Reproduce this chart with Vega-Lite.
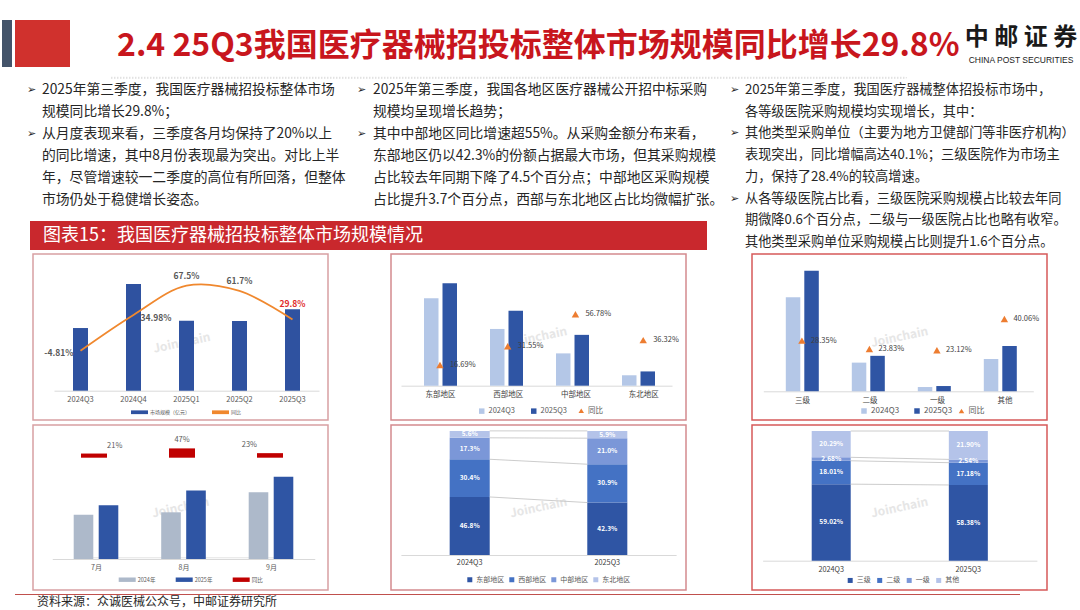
{
"$schema":"https://vega.github.io/schema/vega-lite/v6.json",
"background":"white",
"padding":0,
"spacing":0,
"resolve":{"scale":{"color":"independent","shape":"independent"},"legend":{"color":"independent","shape":"independent"}},
"config":{"font":"Noto Sans CJK SC","view":{"stroke":null},"axis":{"labelFont":"Noto Sans CJK SC"},"legend":{"labelFont":"Noto Sans CJK SC"},"text":{"font":"Noto Sans CJK SC"}},
"datasets":{
"p1":[{"q":"2024Q3","v":272,"yoy":-4.81,"lab":"-4.81%"},{"q":"2024Q4","v":463,"yoy":34.98,"lab":"34.98%"},{"q":"2025Q1","v":304,"yoy":67.5,"lab":"67.5%"},{"q":"2025Q2","v":302,"yoy":61.7,"lab":"61.7%"},{"q":"2025Q3","v":353,"yoy":29.8,"lab":"29.8%"}],
"p2bars":[{"r":"东部地区","y":"2024Q3","v":127.3},{"r":"东部地区","y":"2025Q3","v":149.3},{"r":"西部地区","y":"2024Q3","v":82.7},{"r":"西部地区","y":"2025Q3","v":109.1},{"r":"中部地区","y":"2024Q3","v":47.1},{"r":"中部地区","y":"2025Q3","v":74.1},{"r":"东北地区","y":"2024Q3","v":15.2},{"r":"东北地区","y":"2025Q3","v":20.8}],
"p2yoy":[{"r":"东部地区","yoy":16.69,"lab":"16.69%"},{"r":"西部地区","yoy":31.55,"lab":"31.55%"},{"r":"中部地区","yoy":56.78,"lab":"56.78%"},{"r":"东北地区","yoy":36.32,"lab":"36.32%"}],
"p3bars":[{"r":"三级","y":"2024Q3","v":160.5},{"r":"三级","y":"2025Q3","v":206.1},{"r":"二级","y":"2024Q3","v":49.0},{"r":"二级","y":"2025Q3","v":60.6},{"r":"一级","y":"2024Q3","v":7.3},{"r":"一级","y":"2025Q3","v":9.0},{"r":"其他","y":"2024Q3","v":55.2},{"r":"其他","y":"2025Q3","v":77.3}],
"p3yoy":[{"r":"三级","yoy":28.35,"lab":"28.35%"},{"r":"二级","yoy":23.83,"lab":"23.83%"},{"r":"一级","yoy":23.12,"lab":"23.12%"},{"r":"其他","yoy":40.06,"lab":"40.06%"}],
"p4bars":[{"m":"7月","y":"2024年","v":76.3},{"m":"7月","y":"2025年","v":92.4},{"m":"8月","y":"2024年","v":80.3},{"m":"8月","y":"2025年","v":117.9},{"m":"9月","y":"2024年","v":115.0},{"m":"9月","y":"2025年","v":141.5}],
"p4yoy":[{"m":"7月","yoy":21,"lab":"21%"},{"m":"8月","yoy":47,"lab":"47%"},{"m":"9月","yoy":23,"lab":"23%"}],
"p5":[{"q":"2024Q3","r":"东部地区","k":1,"s":46.8,"lab":"46.8%"},{"q":"2024Q3","r":"西部地区","k":2,"s":30.4,"lab":"30.4%"},{"q":"2024Q3","r":"中部地区","k":3,"s":17.3,"lab":"17.3%"},{"q":"2024Q3","r":"东北地区","k":4,"s":5.6,"lab":"5.6%"},{"q":"2025Q3","r":"东部地区","k":1,"s":42.3,"lab":"42.3%"},{"q":"2025Q3","r":"西部地区","k":2,"s":30.9,"lab":"30.9%"},{"q":"2025Q3","r":"中部地区","k":3,"s":21.0,"lab":"21.0%"},{"q":"2025Q3","r":"东北地区","k":4,"s":5.9,"lab":"5.9%"}],
"p6":[{"q":"2024Q3","r":"三级","k":1,"s":59.02,"lab":"59.02%"},{"q":"2024Q3","r":"二级","k":2,"s":18.01,"lab":"18.01%"},{"q":"2024Q3","r":"一级","k":3,"s":2.68,"lab":"2.68%"},{"q":"2024Q3","r":"其他","k":4,"s":20.29,"lab":"20.29%"},{"q":"2025Q3","r":"三级","k":1,"s":58.38,"lab":"58.38%"},{"q":"2025Q3","r":"二级","k":2,"s":17.18,"lab":"17.18%"},{"q":"2025Q3","r":"一级","k":3,"s":2.54,"lab":"2.54%"},{"q":"2025Q3","r":"其他","k":4,"s":21.90,"lab":"21.90%"}]
},
"vconcat":[
{"width":1,"height":20,"data":{"values":[]},"mark":{"type":"text"}},
{"hconcat":[
 {"width":2,"height":47,"data":{"values":[]},"mark":{"type":"text"}},
 {"width":10,"height":47,"view":{"fill":"#44546A","stroke":null},"data":{"values":[]},"mark":{"type":"text"}},
 {"width":3,"height":47,"data":{"values":[]},"mark":{"type":"text"}},
 {"width":55,"height":47,"view":{"fill":"#D0312D","stroke":null},"data":{"values":[]},"mark":{"type":"text"}},
 {"width":45,"height":47,"data":{"values":[]},"mark":{"type":"text"}},
 {"width":843,"height":47,"data":{"values":[{"t":"2.4 25Q3我国医疗器械招投标整体市场规模同比增长29.8%"}]},"mark":{"type":"text","fontSize":32,"fontWeight":"bold","color":"#C8161D","align":"left","baseline":"middle","dy":2},"encoding":{"x":{"value":2},"text":{"field":"t"}}},
 {"width":122,"height":47,"layer":[
   {"data":{"values":[{"t":"中 邮 证 券"}]},"mark":{"type":"text","fontSize":24,"fontWeight":"bold","color":"#1A1A1A","align":"center","baseline":"middle","dy":-6},"encoding":{"text":{"field":"t"}}},
   {"data":{"values":[{"t":"CHINA POST SECURITIES"}]},"mark":{"type":"text","font":"Liberation Sans","fontSize":8.5,"color":"#1A1A1A","align":"center","baseline":"middle","dy":16},"encoding":{"text":{"field":"t"}}}
 ]}
],"spacing":0},
{"width":1,"height":9,"data":{"values":[]},"mark":{"type":"text"}},
{"hconcat":[
 {"width":110,"height":1,"data":{"values":[]},"mark":{"type":"text"}},
 {"width":795,"height":1,"view":{"stroke":"#C8C8C8","strokeWidth":0.8,"strokeDash":[1,2]},"data":{"values":[]},"mark":{"type":"text"}}
],"spacing":0},
{"hconcat":[
 {"width":25,"height":174,"data":{"values":[]},"mark":{"type":"text"}},
 {"vconcat":[
   {"hconcat":[
     {"width":330,"height":132,"data":{"values":[
       {"i":0,"b":"➢","t":"2025年第三季度，我国医疗器械招投标整体市场"},
       {"i":1,"b":"","t":"规模同比增长29.8%；"},
       {"i":2,"b":"➢","t":"从月度表现来看，三季度各月均保持了20%以上"},
       {"i":3,"b":"","t":"的同比增速，其中8月份表现最为突出。对比上半"},
       {"i":4,"b":"","t":"年，尽管增速较一二季度的高位有所回落，但整体"},
       {"i":5,"b":"","t":"市场仍处于稳健增长姿态。"}]},
      "layer":[
       {"transform":[{"filter":"datum.b != ''"}],"mark":{"type":"text","align":"left","baseline":"middle","fontSize":11,"color":"#262626","font":"DejaVu Sans"},"encoding":{"x":{"value":2},"y":{"field":"i","type":"ordinal","axis":null},"text":{"field":"b"}}},
       {"mark":{"type":"text","align":"left","baseline":"middle","fontSize":13.8,"color":"#262626"},"encoding":{"x":{"value":17},"y":{"field":"i","type":"ordinal","axis":null},"text":{"field":"t"}}}
      ]},
     {"width":373,"height":132,"data":{"values":[
       {"i":0,"b":"➢","t":"2025年第三季度，我国各地区医疗器械公开招中标采购"},
       {"i":1,"b":"","t":"规模均呈现增长趋势；"},
       {"i":2,"b":"➢","t":"其中中部地区同比增速超55%。从采购金额分布来看，"},
       {"i":3,"b":"","t":"东部地区仍以42.3%的份额占据最大市场，但其采购规模"},
       {"i":4,"b":"","t":"占比较去年同期下降了4.5个百分点；中部地区采购规模"},
       {"i":5,"b":"","t":"占比提升3.7个百分点，西部与东北地区占比均微幅扩张。"}]},
      "layer":[
       {"transform":[{"filter":"datum.b != ''"}],"mark":{"type":"text","align":"left","baseline":"middle","fontSize":11,"color":"#262626","font":"DejaVu Sans"},"encoding":{"x":{"value":2},"y":{"field":"i","type":"ordinal","axis":null},"text":{"field":"b"}}},
       {"mark":{"type":"text","align":"left","baseline":"middle","fontSize":13.8,"color":"#262626"},"encoding":{"x":{"value":18},"y":{"field":"i","type":"ordinal","axis":null},"text":{"field":"t"}}}
      ]}
   ],"spacing":0},
   {"width":1,"height":10,"data":{"values":[]},"mark":{"type":"text"}},
   {"hconcat":[
     {"width":5,"height":29,"data":{"values":[]},"mark":{"type":"text"}},
     {"width":677,"height":29,"view":{"fill":"#C9282D","stroke":null},"data":{"values":[{"t":"图表15：我国医疗器械招投标整体市场规模情况"}]},"mark":{"type":"text","align":"left","baseline":"middle","fontSize":18,"color":"white"},"encoding":{"x":{"value":13},"text":{"field":"t"}}}
   ],"spacing":0}
 ],"spacing":0},
 {"width":352,"height":174,"data":{"values":[
   {"i":0,"b":"➢","t":"2025年第三季度，我国医疗器械整体招投标市场中，"},
   {"i":1,"b":"","t":"各等级医院采购规模均实现增长，其中："},
   {"i":2,"b":"➢","t":"其他类型采购单位（主要为地方卫健部门等非医疗机构）"},
   {"i":3,"b":"","t":"表现突出，同比增幅高达40.1%；三级医院作为市场主"},
   {"i":4,"b":"","t":"力，保持了28.4%的较高增速。"},
   {"i":5,"b":"➢","t":"从各等级医院占比看，三级医院采购规模占比较去年同"},
   {"i":6,"b":"","t":"期微降0.6个百分点，二级与一级医院占比也略有收窄。"},
   {"i":7,"b":"","t":"其他类型采购单位采购规模占比则提升1.6个百分点。"}]},
  "layer":[
   {"transform":[{"filter":"datum.b != ''"}],"mark":{"type":"text","align":"left","baseline":"middle","fontSize":11,"color":"#262626","font":"DejaVu Sans"},"encoding":{"x":{"value":2},"y":{"field":"i","type":"ordinal","axis":null},"text":{"field":"b"}}},
   {"mark":{"type":"text","align":"left","baseline":"middle","fontSize":13.2,"color":"#262626"},"encoding":{"x":{"value":17},"y":{"field":"i","type":"ordinal","axis":null},"text":{"field":"t"}}}
  ]}
],"spacing":0},
{"hconcat":[
 {"width":32,"height":166,"data":{"values":[]},"mark":{"type":"text"}},
 {"width":295,"height":166,"view":{"stroke":"#D8A0A3","strokeWidth":1.5,"fill":"white"},"data":{"name":"p1"},
  "layer":[
   {"data":{"values":[{"w":"Joinchain"}]},"mark":{"type":"text","angle":-12,"fontSize":12,"fontWeight":"bold","color":"#E6E6E6","dy":6},"encoding":{"text":{"field":"w"}}},
   {"mark":{"type":"bar","color":"#2F52A0"},"encoding":{
     "x":{"field":"q","type":"nominal","scale":{"range":[21,286],"paddingInner":0.717,"paddingOuter":0.3585},"axis":{"title":null,"offset":-29.3,"labelFontSize":7.5,"labelColor":"#595959","domainColor":"#D9D9D9","ticks":false,"tickSize":0,"labelPadding":4.5,"labelAngle":0}},
     "y":{"field":"v","type":"quantitative","scale":{"domain":[0,500],"range":[136.7,21.5],"nice":false},"axis":null},
     "color":{"datum":"市场规模（亿元）","type":"nominal","scale":{"domain":["市场规模（亿元）","同比"],"range":["#2F52A0","#F0882E"]},"legend":{"orient":"none","legendX":98,"legendY":149.5,"direction":"horizontal","title":null,"padding":0,"symbolType":"M-1,-0.22H1V0.22H-1Z","symbolSize":289,"symbolStrokeWidth":0,"labelFontSize":5,"labelColor":"#595959","labelOffset":2,"columnPadding":21}}}},
   {"mark":{"type":"line","interpolate":"catmull-rom","strokeWidth":1.8},"encoding":{
     "x":{"field":"q","type":"nominal"},
     "y":{"field":"yoy","type":"quantitative","scale":{"domain":[-50,100],"range":[137.3,2.5],"nice":false,"zero":false},"axis":null},
     "color":{"datum":"同比","type":"nominal","legend":{"orient":"none","legendX":98,"legendY":149.5,"direction":"horizontal","title":null,"padding":0,"symbolType":"M-1,-0.22H1V0.22H-1Z","symbolSize":289,"symbolStrokeWidth":0,"labelFontSize":5,"labelColor":"#595959","labelOffset":2,"columnPadding":21}}}},
   {"transform":[{"filter":"datum.q == '2024Q3'"}],"mark":{"type":"text","align":"right","baseline":"middle","dx":-7,"dy":2,"fontSize":8.5,"fontWeight":"bold","color":"#595959"},"encoding":{"x":{"field":"q","type":"nominal"},"y":{"field":"yoy","type":"quantitative","scale":{"domain":[-50,100],"range":[137.3,2.5],"nice":false,"zero":false},"axis":null},"text":{"field":"lab"}}},
   {"transform":[{"filter":"datum.q == '2024Q4'"}],"mark":{"type":"text","align":"left","baseline":"middle","dx":7,"dy":3,"fontSize":8.5,"fontWeight":"bold","color":"#595959"},"encoding":{"x":{"field":"q","type":"nominal"},"y":{"field":"yoy","type":"quantitative","scale":{"domain":[-50,100],"range":[137.3,2.5],"nice":false,"zero":false},"axis":null},"text":{"field":"lab"}}},
   {"transform":[{"filter":"datum.q == '2025Q1' || datum.q == '2025Q2'"}],"mark":{"type":"text","align":"center","baseline":"middle","dy":-10,"fontSize":8.5,"fontWeight":"bold","color":"#595959"},"encoding":{"x":{"field":"q","type":"nominal"},"y":{"field":"yoy","type":"quantitative","scale":{"domain":[-50,100],"range":[137.3,2.5],"nice":false,"zero":false},"axis":null},"text":{"field":"lab"}}},
   {"transform":[{"filter":"datum.q == '2025Q3'"}],"mark":{"type":"text","align":"center","baseline":"middle","dy":-16,"fontSize":8.5,"fontWeight":"bold","color":"#E02B2B"},"encoding":{"x":{"field":"q","type":"nominal"},"y":{"field":"yoy","type":"quantitative","scale":{"domain":[-50,100],"range":[137.3,2.5],"nice":false,"zero":false},"axis":null},"text":{"field":"lab"}}}
  ],
  "resolve":{"scale":{"y":"independent"}}},
 {"width":61,"height":166,"data":{"values":[]},"mark":{"type":"text"}},
 {"width":295,"height":166,"view":{"stroke":"#D48A8F","strokeWidth":1.5,"fill":"white"},
  "layer":[
   {"data":{"values":[{"w":"Joinchain"}]},"mark":{"type":"text","angle":-12,"fontSize":12,"fontWeight":"bold","color":"#E6E6E6"},"encoding":{"text":{"field":"w"}}},
   {"data":{"name":"p2bars"},"transform":[{"filter":"datum.y == '2024Q3'"}],"mark":{"type":"bar"},"encoding":{
     "x":{"field":"r","type":"nominal","sort":["东部地区","西部地区","中部地区","东北地区"],"scale":{"range":[7.25,271.25],"paddingInner":0.7803,"paddingOuter":0.39015},"axis":null},
     "y":{"field":"v","type":"quantitative","scale":{"domain":[0,180],"range":[131.7,8.2],"nice":false},"axis":null},
     "color":{"field":"y","type":"nominal","scale":{"domain":["2024Q3","2025Q3"],"range":["#B4C7E7","#2F55A4"]},"legend":{"orient":"none","legendX":87,"legendY":153,"direction":"horizontal","title":null,"padding":0,"symbolType":"square","symbolSize":30,"symbolStrokeWidth":0,"labelFontSize":7.5,"labelColor":"#595959","labelOffset":3,"columnPadding":15}}}},
   {"data":{"name":"p2bars"},"transform":[{"filter":"datum.y == '2025Q3'"}],"mark":{"type":"bar"},"encoding":{
     "x":{"field":"r","type":"nominal","sort":["东部地区","西部地区","中部地区","东北地区"],"scale":{"range":[25.75,289.75],"paddingInner":0.7803,"paddingOuter":0.39015},"axis":null},
     "y":{"field":"v","type":"quantitative","scale":{"domain":[0,180],"range":[131.7,8.2],"nice":false},"axis":null},
     "color":{"field":"y","type":"nominal","legend":{"orient":"none","legendX":87,"legendY":153,"direction":"horizontal","title":null,"padding":0,"symbolType":"square","symbolSize":30,"symbolStrokeWidth":0,"labelFontSize":7.5,"labelColor":"#595959","labelOffset":3,"columnPadding":15}}}},
   {"data":{"name":"p2yoy"},"mark":{"type":"point","filled":true,"size":55,"opacity":1,"color":"#ED7D31"},"encoding":{
     "x":{"field":"r","type":"nominal","sort":["东部地区","西部地区","中部地区","东北地区"],"scale":{"range":[10,281],"paddingInner":0.5,"paddingOuter":0.303,"align":0.575},"axis":{"title":null,"offset":-34.3,"labelFontSize":7.5,"labelColor":"#404040","domainColor":"#D9D9D9","ticks":false,"tickSize":0,"labelPadding":5,"labelAngle":0}},
     "y":{"field":"yoy","type":"quantitative","scale":{"domain":[0,100],"range":[132.1,5.6],"nice":false},"axis":null},
     "shape":{"datum":"同比","type":"nominal","scale":{"domain":["同比"],"range":["triangle-up"]},"legend":{"orient":"none","legendX":186.5,"legendY":153,"direction":"horizontal","title":null,"padding":0,"symbolSize":30,"symbolStrokeWidth":0,"symbolFillColor":"#ED7D31","labelFontSize":7.5,"labelColor":"#595959","labelOffset":3}}}},
   {"data":{"name":"p2yoy"},"mark":{"type":"text","align":"left","baseline":"middle","dx":10,"fontSize":7.5,"color":"#404040"},"encoding":{
     "x":{"field":"r","type":"nominal","sort":["东部地区","西部地区","中部地区","东北地区"],"scale":{"range":[10,281],"paddingInner":0.5,"paddingOuter":0.303,"align":0.575},"axis":null},
     "y":{"field":"yoy","type":"quantitative","scale":{"domain":[0,100],"range":[132.1,5.6],"nice":false},"axis":null},
     "text":{"field":"lab"}}}
  ],
  "resolve":{"scale":{"x":"independent","y":"independent"}}},
 {"width":64,"height":166,"data":{"values":[]},"mark":{"type":"text"}},
 {"width":295,"height":166,"view":{"stroke":"#D65A5A","strokeWidth":1.5,"fill":"white"},
  "layer":[
   {"data":{"values":[{"w":"Joinchain"}]},"mark":{"type":"text","angle":-12,"fontSize":12,"fontWeight":"bold","color":"#E6E6E6"},"encoding":{"text":{"field":"w"}}},
   {"data":{"name":"p3bars"},"transform":[{"filter":"datum.y == '2024Q3'"}],"mark":{"type":"bar"},"encoding":{
     "x":{"field":"r","type":"nominal","sort":["三级","二级","一级","其他"],"scale":{"range":[8.05,272.05],"paddingInner":0.7803,"paddingOuter":0.39015},"axis":null},
     "y":{"field":"v","type":"quantitative","scale":{"domain":[0,230],"range":[137.3,2.7],"nice":false},"axis":null},
     "color":{"field":"y","type":"nominal","scale":{"domain":["2024Q3","2025Q3"],"range":["#B4C7E7","#2F55A4"]},"legend":{"orient":"none","legendX":108,"legendY":153,"direction":"horizontal","title":null,"padding":0,"symbolType":"square","symbolSize":30,"symbolStrokeWidth":0,"labelFontSize":8,"labelColor":"#595959","labelOffset":3,"columnPadding":13}}}},
   {"data":{"name":"p3bars"},"transform":[{"filter":"datum.y == '2025Q3'"}],"mark":{"type":"bar"},"encoding":{
     "x":{"field":"r","type":"nominal","sort":["三级","二级","一级","其他"],"scale":{"range":[26.55,290.55],"paddingInner":0.7803,"paddingOuter":0.39015},"axis":null},
     "y":{"field":"v","type":"quantitative","scale":{"domain":[0,230],"range":[137.3,2.7],"nice":false},"axis":null},
     "color":{"field":"y","type":"nominal","legend":{"orient":"none","legendX":108,"legendY":153,"direction":"horizontal","title":null,"padding":0,"symbolType":"square","symbolSize":30,"symbolStrokeWidth":0,"labelFontSize":8,"labelColor":"#595959","labelOffset":3,"columnPadding":13}}}},
   {"data":{"name":"p3yoy"},"mark":{"type":"point","filled":true,"size":55,"opacity":1,"color":"#ED7D31"},"encoding":{
     "x":{"field":"r","type":"nominal","sort":["三级","二级","一级","其他"],"scale":{"range":[11.3,281.3],"paddingInner":0.5,"paddingOuter":0.2985,"align":0.572},"axis":{"title":null,"offset":-28.7,"labelFontSize":7.5,"labelColor":"#404040","domainColor":"#D9D9D9","ticks":false,"tickSize":0,"labelPadding":5.5,"labelAngle":0}},
     "y":{"field":"yoy","type":"quantitative","scale":{"domain":[0,75],"range":[139,0.4],"nice":false},"axis":null},
     "shape":{"datum":"同比","type":"nominal","scale":{"domain":["同比"],"range":["triangle-up"]},"legend":{"orient":"none","legendX":205.5,"legendY":153,"direction":"horizontal","title":null,"padding":0,"symbolSize":30,"symbolStrokeWidth":0,"symbolFillColor":"#ED7D31","labelFontSize":8,"labelColor":"#595959","labelOffset":3}}}},
   {"data":{"name":"p3yoy"},"mark":{"type":"text","align":"left","baseline":"middle","dx":9,"fontSize":7.5,"color":"#404040"},"encoding":{
     "x":{"field":"r","type":"nominal","sort":["三级","二级","一级","其他"],"scale":{"range":[11.3,281.3],"paddingInner":0.5,"paddingOuter":0.2985,"align":0.572},"axis":null},
     "y":{"field":"yoy","type":"quantitative","scale":{"domain":[0,75],"range":[139,0.4],"nice":false},"axis":null},
     "text":{"field":"lab"}}}
  ],
  "resolve":{"scale":{"x":"independent","y":"independent"}}}
],"spacing":0,"resolve":{"scale":{"color":"independent","shape":"independent"},"legend":{"color":"independent","shape":"independent"}}},
{"width":1,"height":2.5,"data":{"values":[]},"mark":{"type":"text"}},
{"hconcat":[
 {"width":32,"height":165,"data":{"values":[]},"mark":{"type":"text"}},
 {"width":295,"height":165,"view":{"stroke":"#D8A0A3","strokeWidth":1.5,"fill":"white"},
  "layer":[
   {"data":{"values":[{"w":"Joinchain"}]},"mark":{"type":"text","angle":-12,"fontSize":12,"fontWeight":"bold","color":"#E6E6E6"},"encoding":{"text":{"field":"w"}}},
   {"data":{"name":"p4yoy"},"mark":{"type":"text","text":""},"encoding":{
     "x":{"field":"m","type":"nominal","scale":{"range":[19.25,281.75],"paddingInner":0.5,"paddingOuter":0.25},"axis":{"title":null,"offset":-31,"labelFontSize":7,"labelColor":"#595959","domainColor":"#D9D9D9","ticks":false,"tickSize":0,"labelPadding":4,"labelAngle":0}}}},
   {"data":{"name":"p4bars"},"transform":[{"filter":"datum.y == '2024年'"}],"mark":{"type":"bar"},"encoding":{
     "x":{"field":"m","type":"nominal","scale":{"range":[6.75,269.25],"paddingInner":0.776,"paddingOuter":0.388},"axis":null},
     "y":{"field":"v","type":"quantitative","scale":{"domain":[0,200],"range":[134,17.7],"nice":false},"axis":null},
     "color":{"field":"y","type":"nominal","scale":{"domain":["2024年","2025年","同比"],"range":["#ADB9CA","#2F55A4","#C00000"]},"legend":{"orient":"none","legendX":85.7,"legendY":146.2,"direction":"horizontal","title":null,"padding":0,"symbolType":"M-1,-0.26H1V0.26H-1Z","symbolSize":289,"symbolStrokeWidth":0,"labelFontSize":5.5,"labelColor":"#595959","labelOffset":2,"columnPadding":20}}}},
   {"data":{"name":"p4bars"},"transform":[{"filter":"datum.y == '2025年'"}],"mark":{"type":"bar"},"encoding":{
     "x":{"field":"m","type":"nominal","scale":{"range":[31.75,294.25],"paddingInner":0.776,"paddingOuter":0.388},"axis":null},
     "y":{"field":"v","type":"quantitative","scale":{"domain":[0,200],"range":[134,17.7],"nice":false},"axis":null},
     "color":{"field":"y","type":"nominal","legend":{"orient":"none","legendX":85.7,"legendY":146.2,"direction":"horizontal","title":null,"padding":0,"symbolType":"M-1,-0.26H1V0.26H-1Z","symbolSize":289,"symbolStrokeWidth":0,"labelFontSize":5.5,"labelColor":"#595959","labelOffset":2,"columnPadding":20}}}},
   {"data":{"name":"p4yoy"},"mark":{"type":"bar"},"encoding":{
     "x":{"field":"m","type":"nominal","scale":{"range":[48,250],"paddingInner":0.7045,"paddingOuter":0},"axis":{"title":null,"labels":false,"ticks":false,"tickSize":0,"domainColor":"#E3E3E3","offset":-132.3}},
     "y":{"field":"yoy","type":"quantitative","scale":{"domain":[0,100],"range":[32.7,12.9],"nice":false},"axis":null},
     "color":{"datum":"同比","type":"nominal","legend":{"orient":"none","legendX":85.7,"legendY":146.2,"direction":"horizontal","title":null,"padding":0,"symbolType":"M-1,-0.26H1V0.26H-1Z","symbolSize":289,"symbolStrokeWidth":0,"labelFontSize":5.5,"labelColor":"#595959","labelOffset":2,"columnPadding":20}}}},
   {"data":{"name":"p4yoy"},"mark":{"type":"text","align":"center","baseline":"middle","dy":-8,"fontSize":7.5,"color":"#595959"},"encoding":{
     "x":{"field":"m","type":"nominal","scale":{"range":[48,250],"paddingInner":0.7045,"paddingOuter":0},"axis":null},
     "y":{"field":"yoy","type":"quantitative","scale":{"domain":[0,100],"range":[32.7,12.9],"nice":false},"axis":null},
     "text":{"field":"lab"}}}
  ],
  "resolve":{"scale":{"x":"independent","y":"independent"}}},
 {"width":61,"height":165,"data":{"values":[]},"mark":{"type":"text"}},
 {"width":295,"height":165,"view":{"stroke":"#D48A8F","strokeWidth":1.5,"fill":"white"},
  "layer":[
   {"data":{"values":[{"w":"Joinchain"}]},"mark":{"type":"text","angle":-12,"fontSize":12,"fontWeight":"bold","color":"#E6E6E6"},"encoding":{"text":{"field":"w"}}},
   {"data":{"name":"p5"},"mark":{"type":"bar"},"encoding":{
     "x":{"field":"q","type":"nominal","scale":{"range":[9.9,285.1],"paddingInner":0.709,"paddingOuter":0.3545},"axis":{"title":null,"offset":-35,"labelFontSize":7.3,"labelColor":"#404040","domainColor":"#D9D9D9","ticks":false,"tickSize":0,"labelPadding":3.5,"labelAngle":0}},
     "y":{"field":"s","type":"quantitative","stack":"zero","scale":{"domain":[0,100],"range":[130,6],"nice":false},"axis":null},
     "color":{"field":"r","type":"nominal","scale":{"domain":["东部地区","西部地区","中部地区","东北地区"],"range":["#2F55A4","#4472C4","#7B97D8","#B4C3E9"]},"legend":{"orient":"none","legendX":75.3,"legendY":151,"direction":"horizontal","title":null,"padding":0,"symbolType":"square","symbolSize":25,"symbolStrokeWidth":0,"labelFontSize":7,"labelColor":"#595959","labelOffset":3,"columnPadding":4}},
     "order":{"field":"k","type":"quantitative"}}},
   {"data":{"name":"p5"},"transform":[{"stack":"s","groupby":["q"],"sort":[{"field":"k","order":"ascending"}],"as":["y0","y1"]}],"mark":{"type":"line","color":"#BFBFBF","strokeWidth":0.8},"encoding":{
     "x":{"field":"q","type":"nominal","scale":{"type":"point","range":[98.7,196.3],"padding":0},"axis":null},
     "y":{"field":"y1","type":"quantitative","scale":{"domain":[0,100],"range":[130,6],"nice":false},"axis":null},
     "detail":{"field":"r"}}},
   {"data":{"name":"p5"},"mark":{"type":"text","align":"center","baseline":"middle","fontSize":6.5,"fontWeight":"bold","color":"white"},"encoding":{
     "x":{"field":"q","type":"nominal","scale":{"range":[9.9,285.1],"paddingInner":0.709,"paddingOuter":0.3545},"axis":null},
     "y":{"field":"s","type":"quantitative","stack":"zero","bandPosition":0.5,"scale":{"domain":[0,100],"range":[130,6],"nice":false},"axis":null},
     "detail":{"field":"r"},
     "order":{"field":"k","type":"quantitative"},
     "text":{"field":"lab"}}}
  ],
  "resolve":{"scale":{"x":"independent"}}},
 {"width":64,"height":165,"data":{"values":[]},"mark":{"type":"text"}},
 {"width":295,"height":165,"view":{"stroke":"#D65A5A","strokeWidth":1.5,"fill":"white"},
  "layer":[
   {"data":{"values":[{"w":"Joinchain"}]},"mark":{"type":"text","angle":-12,"fontSize":12,"fontWeight":"bold","color":"#E6E6E6"},"encoding":{"text":{"field":"w"}}},
   {"data":{"name":"p6"},"mark":{"type":"bar"},"encoding":{
     "x":{"field":"q","type":"nominal","scale":{"range":[10.65,284.9],"paddingInner":0.7155,"paddingOuter":0.35775},"axis":{"title":null,"offset":-29.3,"labelFontSize":7.3,"labelColor":"#404040","domainColor":"#D9D9D9","ticks":false,"tickSize":0,"labelPadding":4.5,"labelAngle":0}},
     "y":{"field":"s","type":"quantitative","stack":"zero","scale":{"domain":[0,100],"range":[135.7,6],"nice":false},"axis":null},
     "color":{"field":"r","type":"nominal","scale":{"domain":["三级","二级","一级","其他"],"range":["#2F55A4","#4472C4","#7B97D8","#B4C3E9"]},"legend":{"orient":"none","legendX":94.7,"legendY":151.7,"direction":"horizontal","title":null,"padding":0,"symbolType":"square","symbolSize":25,"symbolStrokeWidth":0,"labelFontSize":7,"labelColor":"#595959","labelOffset":3,"columnPadding":5.5}},
     "order":{"field":"k","type":"quantitative"}}},
   {"data":{"name":"p6"},"transform":[{"stack":"s","groupby":["q"],"sort":[{"field":"k","order":"ascending"}],"as":["y0","y1"]}],"mark":{"type":"line","color":"#BFBFBF","strokeWidth":0.8},"encoding":{
     "x":{"field":"q","type":"nominal","scale":{"type":"point","range":[98.7,197],"padding":0},"axis":null},
     "y":{"field":"y1","type":"quantitative","scale":{"domain":[0,100],"range":[135.7,6],"nice":false},"axis":null},
     "detail":{"field":"r"}}},
   {"data":{"name":"p6"},"mark":{"type":"text","align":"center","baseline":"middle","fontSize":6.5,"fontWeight":"bold","color":"white"},"encoding":{
     "x":{"field":"q","type":"nominal","scale":{"range":[10.65,284.9],"paddingInner":0.7155,"paddingOuter":0.35775},"axis":null},
     "y":{"field":"s","type":"quantitative","stack":"zero","bandPosition":0.5,"scale":{"domain":[0,100],"range":[135.7,6],"nice":false},"axis":null},
     "detail":{"field":"r"},
     "order":{"field":"k","type":"quantitative"},
     "text":{"field":"lab"}}}
  ],
  "resolve":{"scale":{"x":"independent"}}}
],"spacing":0,"resolve":{"scale":{"color":"independent","shape":"independent"},"legend":{"color":"independent","shape":"independent"}}},
{"width":1,"height":2.5,"data":{"values":[]},"mark":{"type":"text"}},
{"hconcat":[
 {"width":15,"height":1,"data":{"values":[]},"mark":{"type":"text"}},
 {"width":1005,"height":1,"view":{"fill":"#C0504D","stroke":null},"data":{"values":[]},"mark":{"type":"text"}}
],"spacing":0},
{"hconcat":[
 {"width":37,"height":13,"data":{"values":[]},"mark":{"type":"text"}},
 {"width":400,"height":13,"data":{"values":[{"t":"资料来源：众诚医械公众号，中邮证券研究所"}]},"mark":{"type":"text","align":"left","baseline":"middle","fontSize":12,"color":"#262626"},"encoding":{"x":{"value":0},"text":{"field":"t"}}}
],"spacing":0}
]
}
